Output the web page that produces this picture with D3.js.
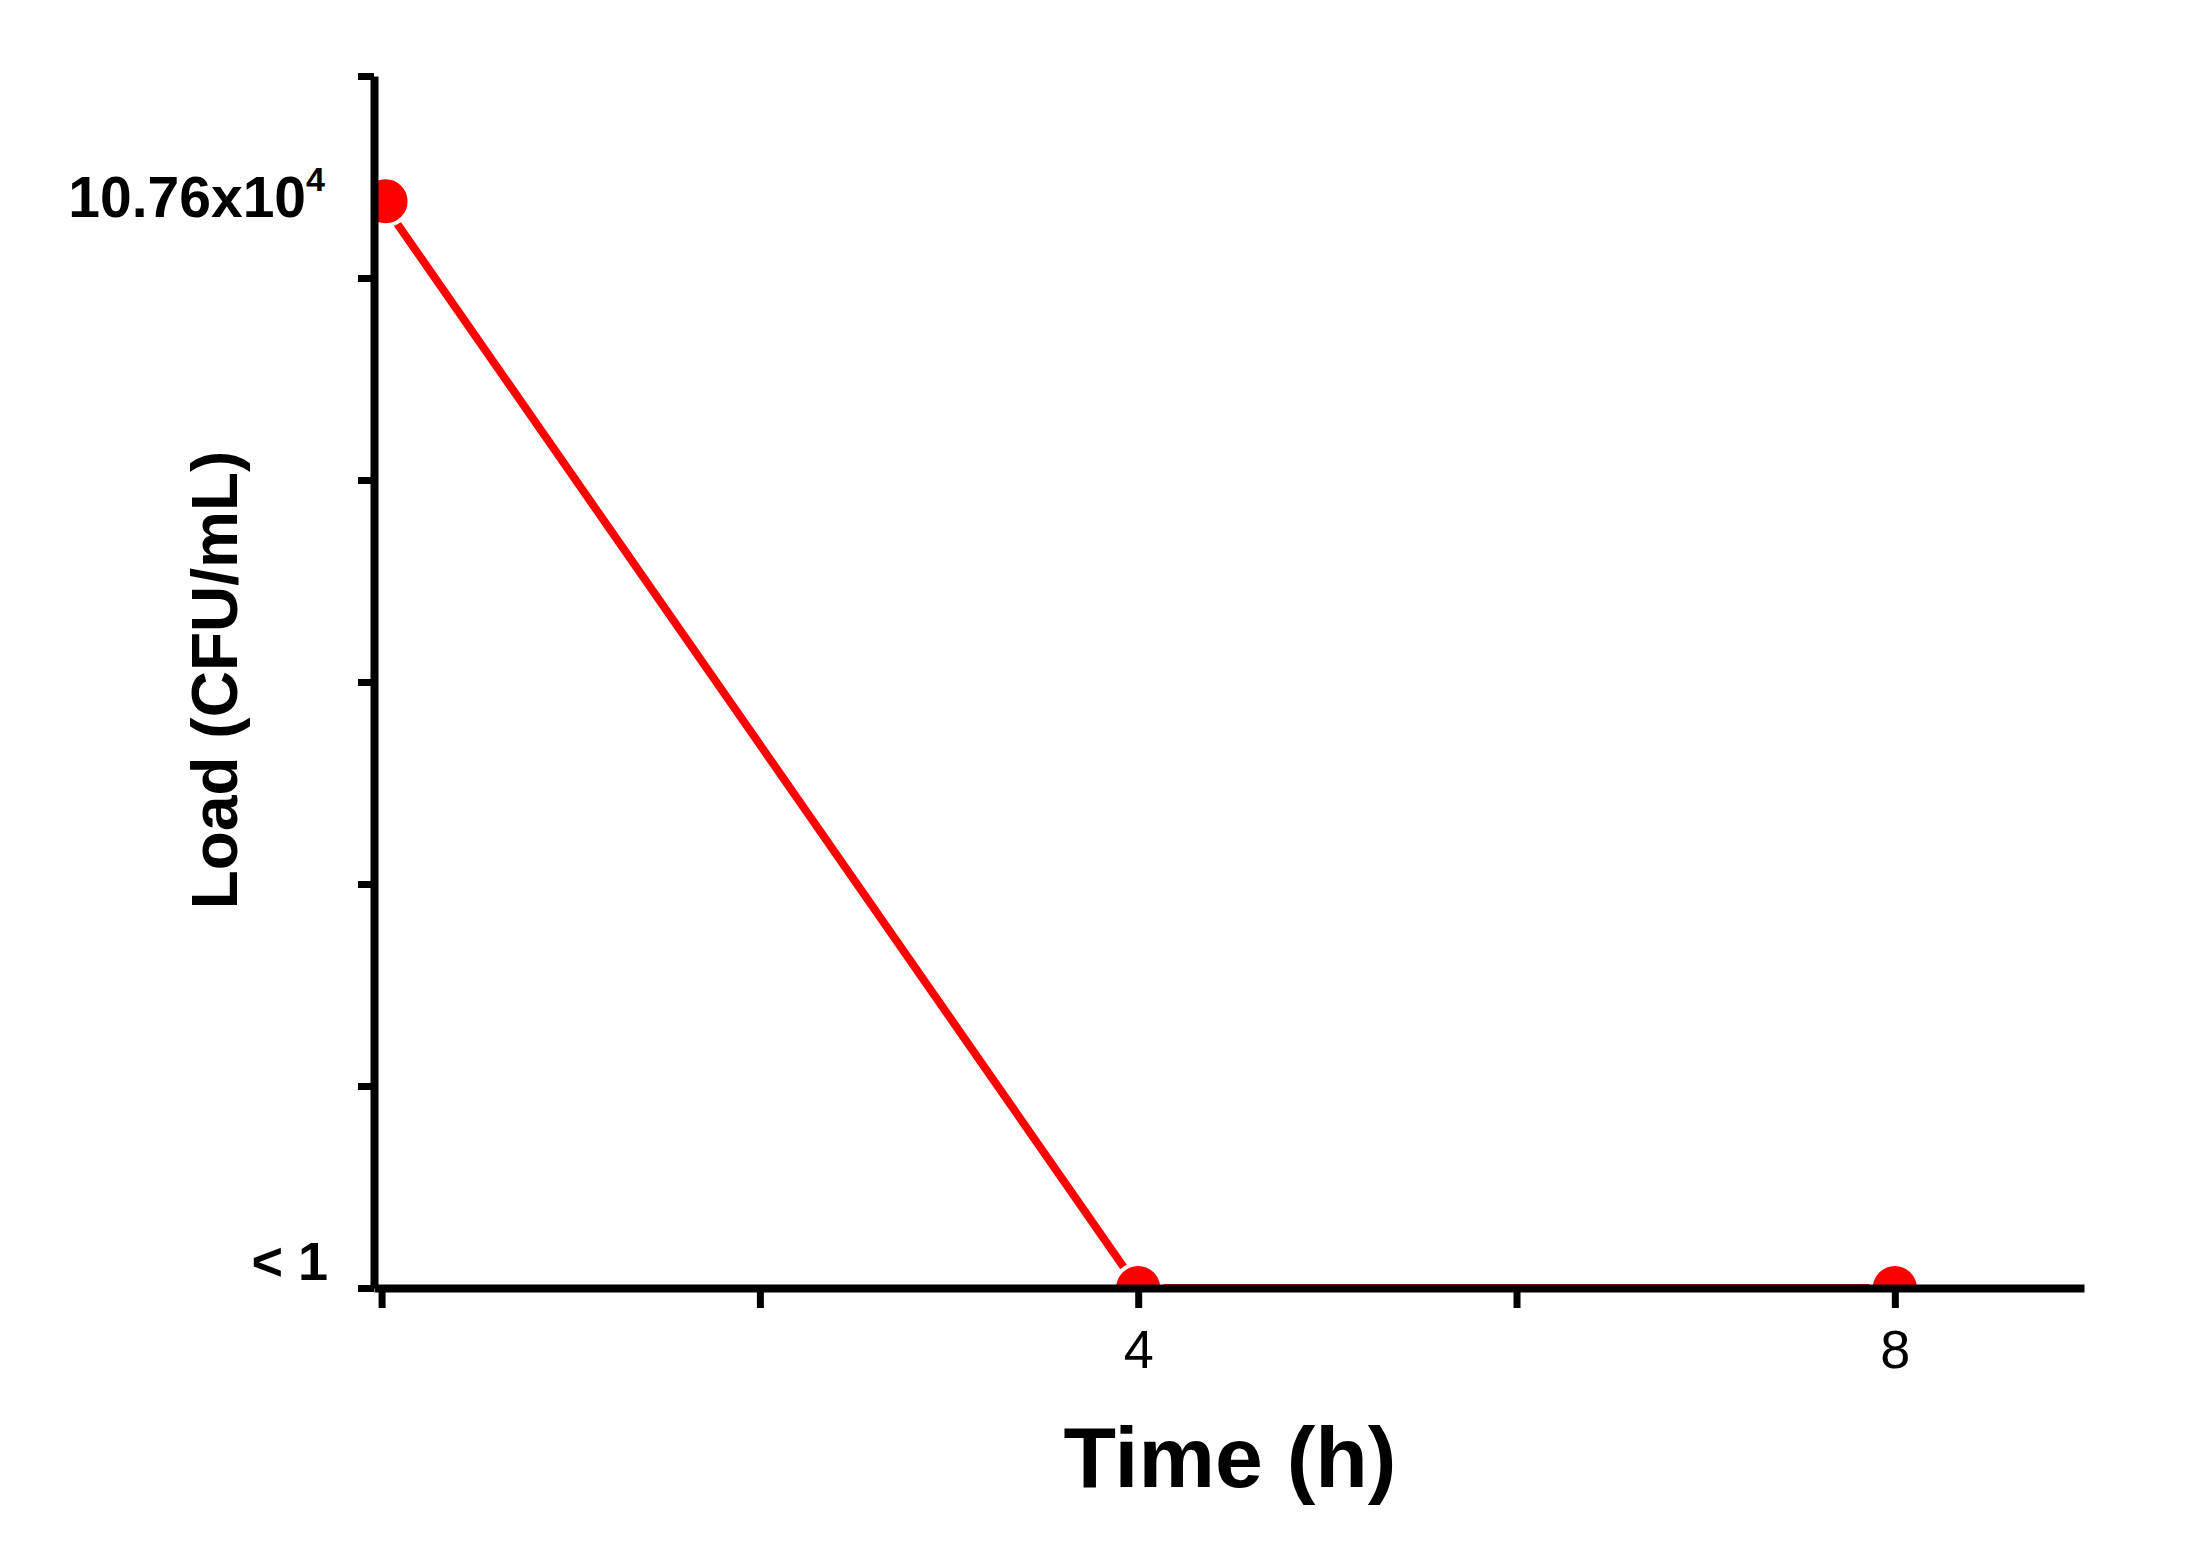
<!DOCTYPE html>
<html><head><meta charset="utf-8">
<script src="https://cdn.jsdelivr.net/npm/d3@7"></script>
<style>body{margin:0;background:#fff}</style></head>
<body><svg id="c" width="2199" height="1566"></svg>
<script>
const times = [0, 4, 8];
const loads = [10.76, 0, 0];
const xTicks = [0, 2, 4, 6, 8];
const xTickLabels = {4: "4", 8: "8"};
const yTicks = [0, 2, 4, 6, 8, 10, 12];

const svg = d3.select("#c");
const x = d3.scaleLinear().domain([-0.04, 9]).range([374, 2084]);
const y = d3.scaleLinear().domain([0, 12]).range([1288, 76]);

svg.append("clipPath").attr("id","clip").append("rect")
  .attr("x", 377).attr("y", 0).attr("width", 1800).attr("height", 1285);

const g = svg.append("g").attr("clip-path","url(#clip)");
const data = times.map((t,i)=>({t, v: loads[i]}));
g.append("path").datum(data)
  .attr("d", d3.line().x(d=>x(d.t)).y(d=>y(d.v)))
  .attr("fill","none").attr("stroke","#ff0000").attr("stroke-width",8);
g.selectAll("circle").data(data).join("circle")
  .attr("cx", d=>x(d.t)+ (d.t===0?4:0)).attr("cy", d=>y(d.v))
  .attr("r", 24).attr("fill","#ff0000").attr("stroke","#fff").attr("stroke-width",4);

const xa = svg.append("g").attr("transform",`translate(0,${y(0)})`)
  .call(d3.axisBottom(x).tickValues(xTicks).tickSize(20).tickSizeOuter(0).tickFormat(d=>xTickLabels[d]||""));
xa.select(".domain").attr("stroke","#000").attr("stroke-width",8);
xa.selectAll(".tick line").attr("stroke","#000").attr("stroke-width",7).attr("y1",-2);
xa.selectAll(".tick text").attr("font-family","Liberation Sans, Arial").attr("font-size",54).attr("fill","#000").attr("dy","1.05em");

const ya = svg.append("g").attr("transform",`translate(${x(-0.04)},0)`)
  .call(d3.axisLeft(y).tickValues(yTicks).tickSize(16).tickSizeOuter(0).tickFormat(""));
ya.select(".domain").attr("stroke","#000").attr("stroke-width",8);
ya.selectAll(".tick line").attr("stroke","#000").attr("stroke-width",7);

const lab = svg.append("text").attr("x", 325).attr("y", y(10.76)+16).attr("text-anchor","end")
  .attr("font-family","Liberation Sans, Arial").attr("font-weight","bold").attr("font-size",57);
lab.append("tspan").text("10.76x10");
lab.append("tspan").text("4").attr("font-size",34).attr("dy",-26);
svg.append("text").attr("x", 328).attr("y", y(0)-8).attr("text-anchor","end")
  .attr("font-family","Liberation Sans, Arial").attr("font-weight","bold").attr("font-size",54).text("< 1");

svg.append("text").attr("x", 1230).attr("y", 1487).attr("text-anchor","middle")
  .attr("font-family","Liberation Sans, Arial").attr("font-weight","bold").attr("font-size",86).text("Time (h)");
svg.append("text").attr("transform","translate(237,680) rotate(-90)").attr("text-anchor","middle")
  .attr("font-family","Liberation Sans, Arial").attr("font-weight","bold").attr("font-size",64).text("Load (CFU/mL)");
</script></body></html>
